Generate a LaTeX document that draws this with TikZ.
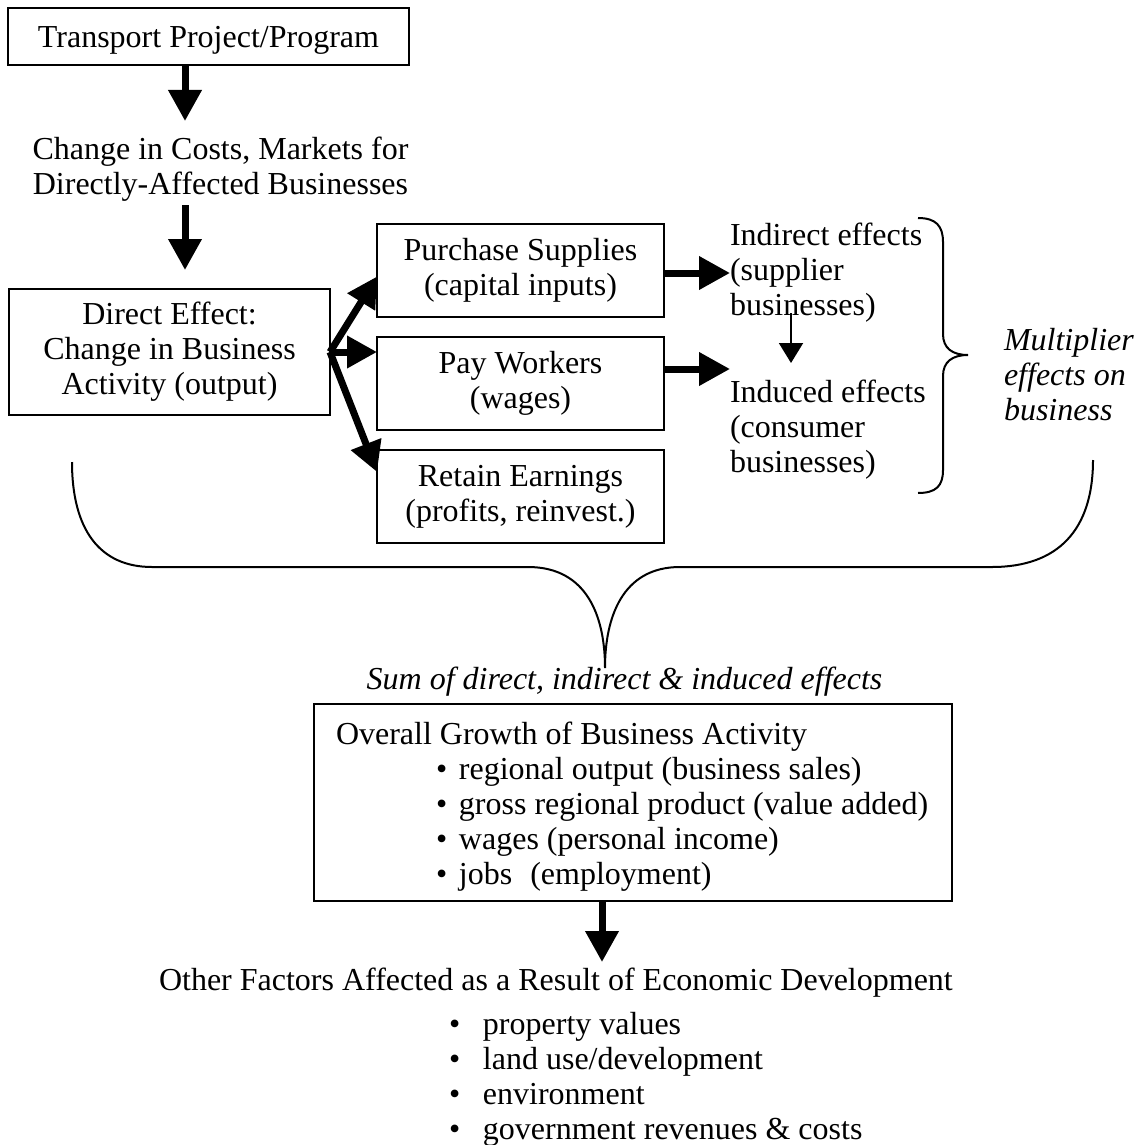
\documentclass[tikz,border=0pt]{standalone}
\usepackage{fontspec}
\setmainfont{Liberation Serif}
\usetikzlibrary{arrows.meta}
\newcommand{\ogline}[1]{\makebox[594pt][l]{#1}}
\newcommand{\ogitem}[1]{\makebox[594pt][l]{\hspace*{100pt}\makebox[23pt][l]{•}#1}}
\newcommand{\ofitem}[1]{\hspace*{290pt}\makebox[34pt][l]{•}#1}
\begin{document}
\begin{tikzpicture}[x=1pt,y=-1pt,
  every node/.style={inner sep=0pt, outer sep=0pt},
  box/.style={draw, line width=2pt, align=center},
  plain/.style={align=center},
  bigarrow/.style={line width=7pt, -{Triangle[length=31pt,width=32pt]}},
  midarrow/.style={line width=7pt, -{Triangle[length=30pt,width=31pt]}},
  smallarrow/.style={line width=2pt, -{Triangle[length=20pt,width=24pt]}},
  brace/.style={line width=2pt},
  font=\fontsize{32}{35}\selectfont]
\useasboundingbox (0,0) rectangle (1135,1145);

% boxes and texts
\node[box, minimum width=401pt, minimum height=57pt, text depth=0pt] (tp) at (208.5,36.5) {Transport Project/Program};
\node[plain] (chg) at (220.5,169) {Change in Costs, Markets for\\Directly-Affected Businesses};
\node[box, minimum width=321pt, minimum height=126pt] (de) at (169.5,352) {Direct Effect:\\Change in Business\\Activity (output)};
\node[box, minimum width=287pt, minimum height=93pt] (ps) at (520.5,270.5) {Purchase Supplies\\(capital inputs)};
\node[box, minimum width=287pt, minimum height=93pt] (pw) at (520.5,383.5) {Pay Workers\\(wages)};
\node[box, minimum width=287pt, minimum height=93pt] (re) at (520.5,496.5) {Retain Earnings\\(profits, reinvest.)};
\node[align=left, anchor=west] (ind) at (730,272.5) {Indirect effects\\(supplier\\businesses)};
\node[align=left, anchor=west] (indu) at (730,430) {Induced effects\\(consumer\\businesses)};
\node[align=left, anchor=west, font=\fontsize{32}{35}\selectfont\itshape] (mult) at (1004,374.5) {Multiplier\\effects on\\business};
\node[anchor=base, font=\fontsize{32}{35}\selectfont\itshape] (sum) at (624.5,689) {Sum of direct, indirect \& induced effects};
\node[box, minimum width=638pt, minimum height=197pt, align=left] (og) at (633,802.5)
  {\ogline{\rule{0pt}{30pt}Overall Growth of Business Activity}\\
   \ogitem{regional output (business sales)}\\
   \ogitem{gross regional product (value added)}\\
   \ogitem{wages (personal income)}\\
   \ogitem{jobs\hspace{18pt}(employment)}};
\node[align=left, anchor=north west] (of) at (159,968)
  {Other Factors Affected as a Result of Economic Development\\[9pt]
   \ofitem{property values}\\
   \ofitem{land use/development}\\
   \ofitem{environment}\\
   \ofitem{government revenues \& costs}};

% arrow end coordinates
\coordinate (t1) at (185,121);
\coordinate (t2) at (185,270);
\coordinate (t3) at (602,962);
\coordinate (s1) at (791,313);
\coordinate (s2) at (791,363);

% connectors
\draw[bigarrow] (tp.south -| t1) -- (t1);
\draw[bigarrow] (chg.south -| t2) ++(0,4) -- (t2);
\draw[midarrow] (de.east) -- ([yshift=-6pt]ps.west);
\draw[midarrow] (de.east) -- (de.east -| pw.west);
\draw[midarrow] (de.east) -- ([yshift=-22pt]re.north west);
\draw[bigarrow] ([yshift=-2.5pt]ps.east) -- ([yshift=-2.5pt]ps.east -| ind.west);
\draw[bigarrow] ([yshift=14.5pt]pw.east) -- ([yshift=14.5pt]pw.east -| indu.west);
\draw[smallarrow] (s1) -- (s2);
\draw[bigarrow] (og.south -| t3) -- (t3);

% right brace
\draw[brace] (918,218) .. controls (936,218) and (943,226) .. (943,242)
  -- (943,334) .. controls (943,348) and (952,355) .. (968,355)
  .. controls (952,355) and (943,362) .. (943,376)
  -- (943,470) .. controls (943,486) and (936,493) .. (918,493);

% big brace
\draw[brace] (72,462) .. controls (72,530) and (100,567) .. (152,567)
  -- (528,567) .. controls (588,567) and (605,618) .. (605,668)
  .. controls (605,618) and (622,567) .. (680,567)
  -- (992,567) .. controls (1058,567) and (1093,530) .. (1093,460);
\end{tikzpicture}
\end{document}
